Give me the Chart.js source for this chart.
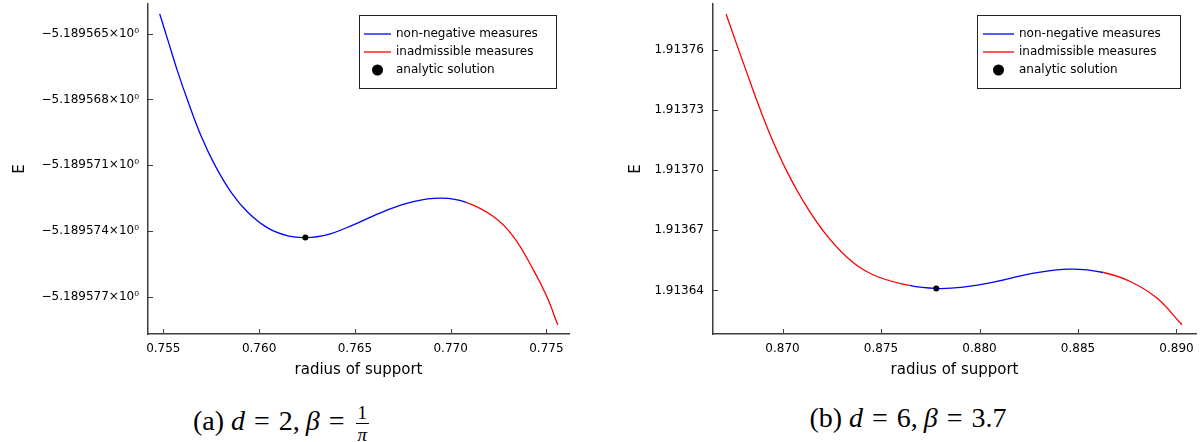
<!DOCTYPE html>
<html>
<head>
<meta charset="utf-8">
<script src="https://cdn.jsdelivr.net/npm/chart.js@4.4.0/dist/chart.umd.min.js"></script>
<style>
body { margin:0; background:#fff; width:1202px; height:442px; overflow:hidden; position:relative; }
canvas { position:absolute; top:0; }
#chartA { left:0; }
#chartB { left:600px; }
.caption { position:absolute; top:403px; line-height:30px; font-family:"Liberation Serif","DejaVu Serif",serif; font-size:28px; white-space:nowrap; transform:translateX(-50%); color:#000; }
.caption .eq { margin:0 9px; }
.caption .b { margin-left:6px; }
.frac { display:inline-block; vertical-align:middle; text-align:center; font-size:19px; line-height:1; margin-left:2px; }
.frac .num { display:block; border-bottom:1px solid #000; padding:0 2px 1px; }
.frac .den { display:block; padding-top:1px; }
</style>
</head>
<body>
<canvas id="chartA" width="590" height="390"></canvas>
<canvas id="chartB" width="602" height="390"></canvas>
<div class="caption" style="left:281px">(a) <i>d</i><span class="eq">=</span>2,<i class="b">β</i><span class="eq">=</span><span class="frac"><span class="num">1</span><span class="den"><i>π</i></span></span></div>
<div class="caption" style="left:908px">(b) <i>d</i><span class="eq">=</span>6,<i class="b">β</i><span class="eq">=</span>3.7</div>
<script>
var seriesNames = ['non-negative measures', 'inadmissible measures', 'analytic solution'];

// (a) d = 2, beta = 1/pi
// kind: 'n' = non-negative, 'i' = inadmissible (colour of the piece that starts at that point)
var aX = [0.75481, 0.755245, 0.755731, 0.75629, 0.756984, 0.757684, 0.758551, 0.759423, 0.760467, 0.761512, 0.762415, 0.763533, 0.764922, 0.766488, 0.768055, 0.769538, 0.770843, 0.772233, 0.773277, 0.774321, 0.775021, 0.775595];
var aE = [-5.189564102, -5.189565319, -5.189566687, -5.189568101, -5.189569697, -5.189570987, -5.18957225, -5.189573162, -5.189573874, -5.189574225, -5.189574302, -5.189574179, -5.189573723, -5.189573117, -5.189572661, -5.189572506, -5.189572706, -5.189573345, -5.189574257, -5.189575775, -5.189576993, -5.189578283];
var aKind = ['n', 'n', 'n', 'n', 'n', 'n', 'n', 'n', 'n', 'n', 'n', 'n', 'n', 'n', 'n', 'n', 'i', 'i', 'i', 'i', 'i', 'i'];
var aDotX = [0.762415];
var aDotE = [-5.189574302];
var aXTicks = [0.755, 0.760, 0.765, 0.770, 0.775];
var aXLabels = ['0.755', '0.760', '0.765', '0.770', '0.775'];
var aYTicks = [-5.189565, -5.189568, -5.189571, -5.189574, -5.189577];
var aYLabels = ['\u22125.189565\u00d710\u2070', '\u22125.189568\u00d710\u2070', '\u22125.189571\u00d710\u2070', '\u22125.189574\u00d710\u2070', '\u22125.189577\u00d710\u2070'];

// (b) d = 6, beta = 3.7
var bX = [0.867134, 0.867642, 0.868151, 0.868659, 0.869339, 0.870183, 0.871031, 0.872048, 0.873232, 0.874588, 0.876453, 0.877804, 0.879176, 0.880873, 0.882566, 0.884598, 0.88629, 0.887647, 0.889003, 0.890274];
var bE = [1.91377795, 1.91376364, 1.91374968, 1.91373572, 1.91371847, 1.91370018, 1.91368488, 1.91366992, 1.91365696, 1.91364784, 1.9136425, 1.91364101, 1.91364171, 1.9136445, 1.91364834, 1.91365068, 1.91364898, 1.9136445, 1.91363622, 1.91362291];
var bKind = ['i', 'i', 'i', 'i', 'i', 'i', 'i', 'i', 'i', 'i', 'n', 'n', 'n', 'n', 'n', 'n', 'i', 'i', 'i', 'i'];
var bDotX = [0.877804];
var bDotE = [1.91364101];
var bXTicks = [0.870, 0.875, 0.880, 0.885, 0.890];
var bXLabels = ['0.870', '0.875', '0.880', '0.885', '0.890'];
var bYTicks = [1.91364, 1.91367, 1.91370, 1.91373, 1.91376];
var bYLabels = ['1.91364', '1.91367', '1.91370', '1.91373', '1.91376'];

var axisColor = '#3c3c3c';
var blue = '#0000ff';
var red = '#ff0000';
Chart.defaults.font.family = "'DejaVu Sans', sans-serif";
Chart.defaults.color = '#000';

function pts(xs, ys) {
    return xs.map(function (x, i) { return {x: x, y: ys[i]}; });
}

// one spline, coloured piece by piece, so the blue/red joins stay smooth
function curveSet(xs, ys, kind) {
    return {
        label: '',
        data: pts(xs, ys),
        borderColor: blue,
        borderWidth: 1.3,
        pointRadius: 0,
        fill: false,
        tension: 0.4,
        order: 1,
        segment: {
            borderColor: function (ctx) { return kind[ctx.p0DataIndex] === 'n' ? blue : red; }
        }
    };
}

function dotSet(xs, ys) {
    return {
        label: seriesNames[2],
        data: pts(xs, ys),
        showLine: false,
        pointRadius: 3,
        pointBackgroundColor: '#000',
        pointBorderWidth: 0,
        order: 0
    };
}

// inward tick marks + framed legend inside the plot
var decor = {
    id: 'decor',
    afterDraw: function (chart, args, opts) {
        var ctx = chart.ctx, area = chart.chartArea;
        var xs = chart.scales.x, ys = chart.scales.y;
        ctx.save();
        ctx.strokeStyle = axisColor;
        ctx.lineWidth = 1;
        xs.ticks.forEach(function (t) {
            var px = Math.round(xs.getPixelForValue(t.value)) + 0.5;
            ctx.beginPath(); ctx.moveTo(px, area.bottom); ctx.lineTo(px, area.bottom - 5); ctx.stroke();
        });
        ys.ticks.forEach(function (t) {
            var py = Math.round(ys.getPixelForValue(t.value)) + 0.5;
            ctx.beginPath(); ctx.moveTo(area.left, py); ctx.lineTo(area.left + 5, py); ctx.stroke();
        });

        var bx = Math.round(area.right - opts.right - opts.width), by = Math.round(area.top + opts.top);
        ctx.fillStyle = '#fff';
        ctx.fillRect(bx, by, opts.width, opts.height);
        ctx.strokeStyle = '#222';
        ctx.strokeRect(bx + 0.5, by + 0.5, opts.width, opts.height);
        ctx.font = "12px 'DejaVu Sans', sans-serif";
        ctx.textBaseline = 'middle';
        ctx.textAlign = 'left';
        var colors = [blue, red, null];
        seriesNames.forEach(function (name, row) {
            var cy = by + 19 + row * 18;
            if (!colors[row]) {
                ctx.fillStyle = '#000';
                ctx.beginPath();
                ctx.arc(bx + opts.sample + opts.len / 2, cy, 5.5, 0, Math.PI * 2);
                ctx.fill();
            } else {
                ctx.strokeStyle = colors[row];
                ctx.lineWidth = 1.3;
                ctx.beginPath(); ctx.moveTo(bx + opts.sample, cy); ctx.lineTo(bx + opts.sample + opts.len, cy); ctx.stroke();
            }
            ctx.fillStyle = '#000';
            ctx.fillText(name, bx + opts.text, cy);
        });
        ctx.restore();
    }
};

function makeChart(id, datasets, cfg) {
    return new Chart(id, {
        type: 'line',
        data: {datasets: datasets},
        plugins: [decor],
        options: {
            responsive: false,
            animation: false,
            layout: {padding: {top: 4, right: cfg.padRight, left: 0, bottom: 0}},
            plugins: {
                legend: {display: false},
                tooltip: {enabled: false},
                decor: cfg.legend
            },
            scales: {
                x: {
                    type: 'linear',
                    min: cfg.xMin, max: cfg.xMax,
                    afterBuildTicks: function (s) { s.ticks = cfg.xTicks.map(function (v) { return {value: v}; }); },
                    afterFit: function (s) { s.height = 56; s.paddingLeft = 0; s.paddingRight = 0; },
                    ticks: {
                        autoSkip: false, maxRotation: 0, padding: 8,
                        font: {size: 12},
                        callback: function (v, i) { return cfg.xLabels[i]; }
                    },
                    grid: {drawOnChartArea: false, drawTicks: false},
                    border: {color: axisColor, width: 1.5},
                    title: {display: true, text: 'radius of support', font: {size: 15}, padding: {top: 0, bottom: 11}}
                },
                y: {
                    type: 'linear',
                    min: cfg.yMin, max: cfg.yMax,
                    afterBuildTicks: function (s) { s.ticks = cfg.yTicks.map(function (v) { return {value: v}; }); },
                    afterFit: function (s) { s.width = cfg.yWidth; s.paddingTop = 0; s.paddingBottom = 0; },
                    ticks: {
                        autoSkip: false, padding: 9,
                        font: {size: 12},
                        callback: function (v, i) { return cfg.yLabels[i]; }
                    },
                    grid: {drawOnChartArea: false, drawTicks: false},
                    border: {color: axisColor, width: 1.5},
                    title: {display: true, text: 'E', font: {size: 15}, padding: {top: cfg.titlePad, bottom: 0}}
                }
            }
        }
    });
}

makeChart('chartA', [
    curveSet(aX, aE, aKind),
    dotSet(aDotX, aDotE)
], {
    xMin: 0.7542, xMax: 0.77618, yMin: -5.1895787, yMax: -5.18956365,
    xTicks: aXTicks, xLabels: aXLabels, yTicks: aYTicks, yLabels: aYLabels,
    yWidth: 148, padRight: 21, titlePad: 11,
    legend: {right: 13, top: 11, width: 197, height: 73, sample: 5, len: 27, text: 37}
});

makeChart('chartB', [
    curveSet(bX, bE, bKind),
    dotSet(bDotX, bDotE)
], {
    xMin: 0.86647, xMax: 0.89099, yMin: 1.9136183, yMax: 1.9137829,
    xTicks: bXTicks, xLabels: bXLabels, yTicks: bYTicks, yLabels: bYLabels,
    yWidth: 113, padRight: 6, titlePad: 27,
    legend: {right: 16, top: 11, width: 203, height: 73, sample: 6, len: 31, text: 42}
});
</script>
</body>
</html>
